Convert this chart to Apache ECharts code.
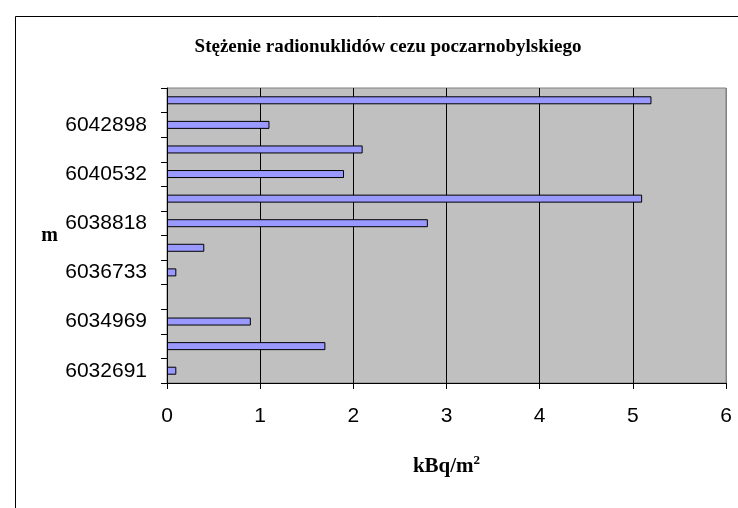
<!DOCTYPE html>
<html>
<head>
<meta charset="utf-8">
<script src="https://cdn.jsdelivr.net/npm/echarts@6/dist/echarts.min.js"></script>
<style>
  html, body { margin: 0; padding: 0; background: #fff; }
  #chart { width: 738px; height: 508px; }
</style>
</head>
<body>
<div id="chart"></div>
<script>
// kategorie od dołu do góry (puste = bez etykiety)
var categories = ['6032691', '', '6034969', '', '6036733', '', '6038818', '', '6040532', '', '6042898', ''];
var values = [0.1, 1.7, 0.9, null, 0.1, 0.4, 2.8, 5.1, 1.9, 2.1, 1.1, 5.2];
var titleText = 'Stężenie radionuklidów cezu poczarnobylskiego';

var chart = echarts.init(document.getElementById('chart'));
chart.setOption({
    animation: false,
    backgroundColor: '#fff',
    title: {
        text: titleText,
        left: 383,
        textAlign: 'center',
        top: 33,
        textStyle: { fontFamily: 'Liberation Serif', fontWeight: 'bold', fontSize: 19, color: '#000' }
    },
    graphic: [{
        type: 'rect',
        shape: { x: 15.5, y: 16.5, width: 800, height: 600 },
        style: { fill: 'none', stroke: '#000', lineWidth: 1 },
        z: -1
    }],
    grid: {
        left: 167, top: 88, right: 12, bottom: 125,
        show: true, backgroundColor: '#c0c0c0', borderColor: '#808080', borderWidth: 1
    },
    xAxis: {
        type: 'value', min: 0, max: 6, interval: 1,
        name: '{a|kBq/m}{s|2}',
        nameLocation: 'middle',
        nameGap: 71,
        nameTextStyle: {
            rich: {
                a: { fontFamily: 'Liberation Serif', fontWeight: 'bold', fontSize: 21, color: '#000' },
                s: { fontFamily: 'Liberation Serif', fontWeight: 'bold', fontSize: 13, color: '#000', verticalAlign: 'top', padding: [0, 0, 12, 0] }
            }
        },
        axisLine: { show: true, lineStyle: { color: '#000' } },
        axisTick: { show: true, length: 6, lineStyle: { color: '#000' } },
        axisLabel: { margin: 23, fontFamily: 'Liberation Sans', fontSize: 21, color: '#000' },
        splitLine: { show: true, lineStyle: { color: ['#808080', '#000', '#000', '#000', '#000', '#000', '#808080'], width: 1 } }
    },
    yAxis: {
        type: 'category',
        data: categories,
        name: 'm',
        nameLocation: 'middle',
        nameRotate: 0,
        nameGap: 109,
        nameMoveOverlap: false,
        nameTextStyle: { fontFamily: 'Liberation Serif', fontWeight: 'bold', fontSize: 20, color: '#000', padding: [14, 0, 0, 0] },
        axisLine: { show: true, lineStyle: { color: '#000' } },
        axisTick: { show: true, length: 6, interval: 0, lineStyle: { color: '#000' } },
        axisLabel: { interval: 0, margin: 20, fontFamily: 'Liberation Sans', fontSize: 21, color: '#000', padding: [6, 0, 0, 0] }
    },
    series: [{
        type: 'bar',
        data: values,
        barWidth: 8,
        itemStyle: { color: '#9999ff', borderColor: '#000', borderWidth: 1 }
    }]
});
</script>
</body>
</html>
